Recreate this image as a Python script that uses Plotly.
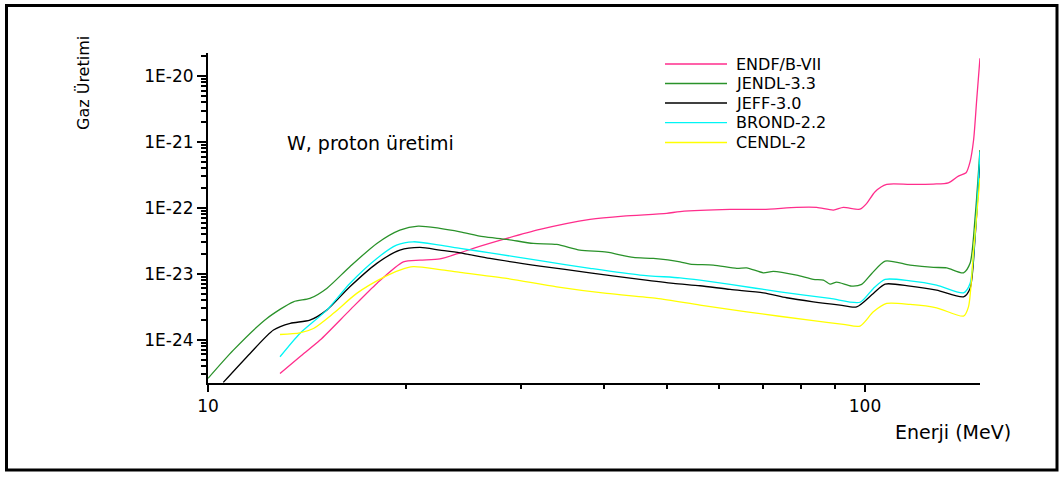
import plotly.graph_objects as go

# ---------------- data ----------------
endf_E = [12.87, 13.80, 14.81, 16.44, 18.07, 19.83, 21.02, 22.54, 24.19, 25.34, 28.49, 32.01,
          38.14, 42.85, 49.89, 52.30, 62.32, 70.02, 78.70, 84.43, 89.50, 92.68, 98.26, 100.6,
          103.6, 107.9, 117.1, 127.1, 133.9, 138.7, 142.5, 144.5, 146.3, 147.9, 149.6]
endf_Y = [3.08e-25, 5.51e-25, 9.86e-25, 2.81e-24, 7.14e-24, 1.52e-23, 1.61e-23, 1.68e-23, 2.08e-23,
          2.43e-23, 3.44e-23, 4.71e-23, 6.68e-23, 7.52e-23, 8.24e-23, 8.8e-23, 9.48e-23, 9.48e-23,
          1.016e-22, 1.016e-22, 9.27e-23, 1.016e-22, 9.55e-23, 1.17e-22, 1.76e-22, 2.27e-22,
          2.27e-22, 2.30e-22, 2.40e-22, 3.04e-22, 3.41e-22, 5.0e-22, 1.07e-21, 4.33e-21, 1.86e-20]

jendl_E = [10.0, 10.93, 12.29, 13.49, 14.29, 15.16, 16.44, 18.07, 19.59, 20.89, 22.54, 24.19,
           26.24, 28.49, 31.27, 33.94, 36.81, 40.45, 44.39, 47.62, 52.30, 54.15, 58.75, 63.80,
           66.07, 70.02, 72.51, 78.70, 83.42, 86.42, 88.46, 90.57, 95.43, 98.83, 102.4, 107.3,
           117.1, 127.1, 133.1, 141.2, 144.5, 147.1, 149.6]
jendl_Y = [2.59e-25, 6.95e-25, 2.10e-24, 3.76e-24, 4.23e-24, 6.00e-24, 1.28e-23, 2.89e-23, 4.60e-23,
           5.30e-23, 4.89e-23, 4.34e-23, 3.65e-23, 3.33e-23, 2.89e-23, 2.79e-23, 2.29e-23, 2.13e-23,
           1.77e-23, 1.71e-23, 1.52e-23, 1.40e-23, 1.355e-23, 1.21e-23, 1.23e-23, 1.035e-23,
           1.09e-23, 9.55e-24, 8.22e-24, 8.02e-24, 6.98e-24, 7.48e-24, 6.50e-24, 6.90e-24,
           1.01e-23, 1.56e-23, 1.355e-23, 1.25e-23, 1.23e-23, 1.035e-23, 1.44e-23, 7.33e-23, 7.53e-22]

jeff_E = [10.55, 11.59, 12.58, 13.34, 14.29, 15.16, 16.44, 18.07, 19.59, 21.02, 22.54, 24.19,
          26.87, 32.01, 38.14, 45.45, 51.07, 56.09, 62.32, 70.02, 75.98, 83.42, 91.62, 97.11,
          102.97, 107.3, 117.1, 128.5, 141.2, 144.5, 147.1, 149.6]
jeff_Y = [2.25e-25, 6.19e-25, 1.40e-24, 1.77e-24, 1.98e-24, 2.81e-24, 6.35e-24, 1.44e-23, 2.29e-23,
          2.51e-23, 2.29e-23, 2.08e-23, 1.71e-23, 1.31e-23, 1.035e-23, 8.22e-24, 7.14e-24, 6.58e-24,
          5.79e-24, 5.15e-24, 4.33e-24, 3.76e-24, 3.35e-24, 3.15e-24, 5.04e-24, 6.98e-24, 6.50e-24,
          5.66e-24, 4.48e-24, 6.00e-24, 3.65e-23, 5.6e-22]

brond_E = [12.87, 13.80, 15.16, 16.44, 18.07, 19.36, 20.54, 22.54, 24.19, 26.87, 32.01, 38.14,
           45.45, 52.30, 56.09, 62.32, 74.22, 88.46, 98.26, 102.97, 107.3, 117.1, 128.5, 141.2,
           144.5, 147.1, 149.6]
brond_Y = [5.51e-25, 1.245e-24, 2.81e-24, 7.14e-24, 1.71e-23, 2.72e-23, 3.06e-23, 2.72e-23, 2.43e-23,
           2.08e-23, 1.58e-23, 1.21e-23, 9.55e-24, 8.69e-24, 8.02e-24, 6.90e-24, 5.33e-24, 4.23e-24,
           3.70e-24, 6.00e-24, 8.22e-24, 7.83e-24, 6.75e-24, 5.15e-24, 7.14e-24, 4.10e-23, 7.10e-22]

cendl_E = [12.87, 13.80, 14.47, 15.52, 16.84, 18.49, 19.59, 20.54, 22.54, 24.19, 28.49, 33.94,
           40.45, 48.19, 56.09, 66.07, 83.42, 92.68, 98.26, 102.97, 107.9, 117.1, 128.5, 141.2,
           143.7, 146.3, 149.6]
cendl_Y = [1.20e-24, 1.27e-24, 1.48e-24, 2.51e-24, 5.04e-24, 8.81e-24, 1.14e-23, 1.28e-23, 1.16e-23,
           1.05e-23, 8.51e-24, 6.35e-24, 5.04e-24, 4.23e-24, 3.35e-24, 2.65e-24, 1.94e-24, 1.71e-24,
           1.61e-24, 2.65e-24, 3.55e-24, 3.43e-24, 3.05e-24, 2.28e-24, 3.15e-24, 2.29e-23, 2.82e-22]

series_names = ["ENDF/B-VII", "JENDL-3.3", "JEFF-3.0", "BROND-2.2", "CENDL-2"]
series_E = [endf_E, jendl_E, jeff_E, brond_E, cendl_E]
series_Y = [endf_Y, jendl_Y, jeff_Y, brond_Y, cendl_Y]
series_colors = ["#FF2D8C", "#2A922A", "#000000", "#00F5F5", "#FFFF00"]

y_tickvals = [1e-24, 1e-23, 1e-22, 1e-21, 1e-20]
y_ticktext = ["1E-24", "1E-23", "1E-22", "1E-21", "1E-20"]
x_tickvals = [10, 100]
x_ticktext = ["10", "100"]

# ---------------- figure ----------------
FONT = "DejaVu Sans, Arial, sans-serif"
fig = go.Figure()
for name, xs, ys, col in zip(series_names, series_E, series_Y, series_colors):
    fig.add_trace(go.Scatter(x=xs, y=ys, mode="lines", name=name, showlegend=False,
                             line=dict(color=col, width=1.3, shape="spline", smoothing=0.7)))

W, H = 1064, 477
L, R, T, B = 208, 84, 53, 94
pw, ph = W - L - R, H - T - B

def px_x(px):
    return (px - L) / pw

def px_y(py):
    return (H - B - py) / ph

y_minor = [m * 10.0 ** e for e in range(-25, -19) for m in range(2, 10)]
x_minor = [m * 10 for m in range(2, 10)]

fig.update_layout(
    width=W, height=H,
    margin=dict(l=L, r=R, t=T, b=B),
    paper_bgcolor="white", plot_bgcolor="white",
    font=dict(family=FONT, color="black"),
    showlegend=False,
    xaxis=dict(type="log", range=[1, 2.175], showgrid=False, zeroline=False,
               showline=True, linecolor="black", linewidth=2,
               ticks="outside", ticklen=7, tickwidth=2, tickcolor="black",
               tickmode="array", tickvals=x_tickvals, ticktext=x_ticktext,
               tickfont=dict(size=17, family=FONT),
               minor=dict(ticks="outside", ticklen=4, tickwidth=1.5, tickcolor="black",
                          tickmode="array", tickvals=x_minor, showgrid=False)),
    yaxis=dict(type="log", range=[-24.657, -19.65], showgrid=False, zeroline=False,
               showline=True, linecolor="black", linewidth=2,
               ticks="outside", ticklen=9, tickwidth=2, tickcolor="black",
               tickmode="array", tickvals=y_tickvals, ticktext=y_ticktext,
               tickfont=dict(size=17, family=FONT),
               minor=dict(ticks="outside", ticklen=5, tickwidth=1.5, tickcolor="black",
                          tickmode="array", tickvals=y_minor, showgrid=False)),
)

# legend (drawn as sample lines + labels)
leg_rows = [64, 83.5, 103, 122.7, 142.5]
for name, col, ry in zip(series_names, series_colors, leg_rows):
    fig.add_shape(type="line", xref="paper", yref="paper",
                  x0=px_x(665), x1=px_x(727), y0=px_y(ry), y1=px_y(ry),
                  line=dict(color=col, width=1.3))
    fig.add_annotation(text=name, xref="paper", yref="paper",
                       x=px_x(735), y=px_y(ry), xanchor="left", yanchor="middle",
                       showarrow=False, borderpad=0, font=dict(size=16, family=FONT))

# axis titles and in-plot label
fig.add_annotation(text="Enerji (MeV)", xref="paper", yref="paper",
                   x=px_x(1013), y=px_y(432), xanchor="right", yanchor="middle",
                   showarrow=False, font=dict(size=19, family=FONT))
fig.add_annotation(text="Gaz Üretimi", xref="paper", yref="paper",
                   x=px_x(83), y=px_y(83), xanchor="center", yanchor="middle",
                   textangle=-90, showarrow=False, font=dict(size=16, family=FONT))
fig.add_annotation(text="W, proton üretimi", xref="paper", yref="paper",
                   x=px_x(285), y=px_y(143), xanchor="left", yanchor="middle",
                   showarrow=False, font=dict(size=19, family=FONT))

# outer frame
fig.add_shape(type="rect", xref="paper", yref="paper",
              x0=px_x(6.5), x1=px_x(1057), y0=px_y(470), y1=px_y(5.5),
              line=dict(color="black", width=3), fillcolor="rgba(0,0,0,0)", layer="below")

fig.write_html("out.html", config={"displayModeBar": False},
               post_script="document.body.style.margin='0';")
